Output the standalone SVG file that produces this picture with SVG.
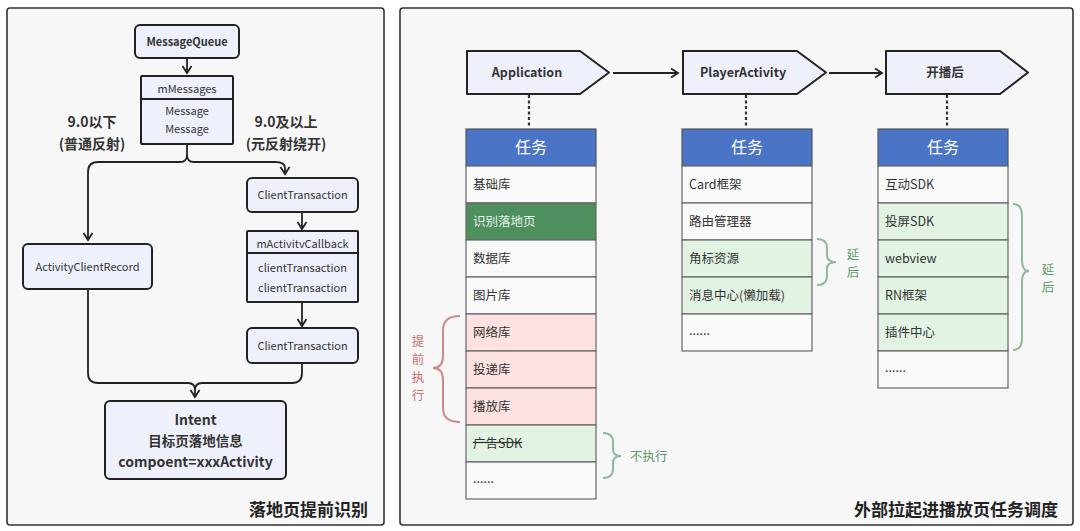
<svg xmlns="http://www.w3.org/2000/svg" width="1080" height="531" viewBox="0 0 1080 531">
<defs>
<marker id="arr" viewBox="0 0 12 12" refX="10" refY="6" markerWidth="12" markerHeight="12" markerUnits="userSpaceOnUse" orient="auto">
<path d="M3,1.5 L10,6 L3,10.5" fill="none" stroke="#222" stroke-width="1.8"/>
</marker>
<style>
text{font-family:"Noto Sans CJK SC","Noto Sans",sans-serif;fill:#333}
.panel{fill:#f7f7f7;stroke:#333;stroke-width:1.6}
.box{fill:#eef1fb;stroke:#222;stroke-width:2}
.sm{font-size:11px;text-anchor:middle}
.b{font-weight:bold}
.lbl{font-size:14px;font-weight:bold;text-anchor:middle}
.conn{fill:none;stroke:#222;stroke-width:1.8}
.hdr{fill:#4a74c6;stroke:#555;stroke-width:1.2}
.row{fill:#f9f9f9;stroke:#666;stroke-width:1.2}
.dg{fill:#4e8f5e;stroke:#666;stroke-width:1.2}
.lg{fill:#e2f3e4;stroke:#666;stroke-width:1.2}
.pk{fill:#fde2e1;stroke:#666;stroke-width:1.2}
.rt{font-size:12.5px}
.ht{font-size:16px;fill:#fff;text-anchor:middle}
.pent{fill:#eef1fb;stroke:#222;stroke-width:2;stroke-linejoin:round}
.dot{stroke:#333;stroke-width:2.2;stroke-dasharray:3,2.5}
.title{font-size:17px;font-weight:bold;text-anchor:end;fill:#222}
</style>
</defs>
<rect width="1080" height="531" fill="#ffffff"/>
<g id="panel-left"><rect class="panel" x="7" y="8" width="377" height="517" rx="3"/></g>
<g id="panel-right"><rect class="panel" x="400" y="8" width="673" height="517" rx="3"/></g>

<g id="connectors">
<line class="conn" x1="187" y1="59" x2="187" y2="73" marker-end="url(#arr)"/>
<path class="conn" d="M187,145 L187,155 Q187,162 180,162 L98,162 Q88,162 88,172 L88,240" marker-end="url(#arr)"/>
<path class="conn" d="M187,155 Q187,162 194,162 L275,162 Q285,162 285,168 L285,174" marker-end="url(#arr)"/>
<line class="conn" x1="302" y1="213" x2="302" y2="229" marker-end="url(#arr)"/>
<line class="conn" x1="302" y1="303" x2="302" y2="326" marker-end="url(#arr)"/>
<path class="conn" d="M88,290 L88,373 Q88,383 98,383 L188,383 Q195,383 195,390"/>
<path class="conn" d="M302,364 L302,373 Q302,383 292,383 L202,383 Q195,383 195,390 L195,397" marker-end="url(#arr)"/>
<line class="conn" x1="613" y1="73" x2="678" y2="73" marker-end="url(#arr)"/>
<line class="conn" x1="829" y1="73" x2="882" y2="73" marker-end="url(#arr)"/>
<line class="dot" x1="529" y1="95" x2="529" y2="128"/>
<line class="dot" x1="746" y1="95" x2="746" y2="128"/>
<line class="dot" x1="947" y1="95" x2="947" y2="128"/>
</g>

<g id="messagequeue"><rect class="box" x="135" y="25" width="104" height="33" rx="5"/><text class="sm b" x="187" y="45.5">MessageQueue</text></g>
<g id="mmessages"><rect class="box" x="141" y="76" width="92" height="68" rx="1"/><line x1="141" y1="99" x2="233" y2="99" stroke="#222" stroke-width="2"/>
<text class="sm" x="187" y="93">mMessages</text><text class="sm" x="187" y="115">Message</text><text class="sm" x="187" y="133">Message</text></g>
<g id="label-below"><text class="lbl" x="92" y="127">9.0以下</text><text class="lbl" x="92" y="149">(普通反射)</text></g>
<g id="label-above"><text class="lbl" x="286" y="127">9.0及以上</text><text class="lbl" x="286" y="149">(元反射绕开)</text></g>
<g id="activityclientrecord"><rect class="box" x="23" y="244" width="129" height="45" rx="5"/><text class="sm" x="87.5" y="270.5">ActivityClientRecord</text></g>
<g id="clienttransaction1"><rect class="box" x="247" y="178" width="111" height="34" rx="5"/><text class="sm" x="302.5" y="199">ClientTransaction</text></g>
<g id="mactivitycallback"><rect class="box" x="247" y="231" width="111" height="71" rx="1"/><line x1="247" y1="253" x2="358" y2="253" stroke="#222" stroke-width="2"/>
<text class="sm" x="302.5" y="248">mActivitvCallback</text><text class="sm" x="302.5" y="272">clientTransaction</text><text class="sm" x="302.5" y="292">clientTransaction</text></g>
<g id="clienttransaction2"><rect class="box" x="247" y="328" width="111" height="35" rx="5"/><text class="sm" x="302.5" y="350">ClientTransaction</text></g>
<g id="intent"><rect class="box" x="105" y="401" width="181" height="78" rx="5" stroke-width="3.2"/>
<text class="b" x="195.5" y="425" font-size="14" text-anchor="middle">Intent</text>
<text class="b" x="195.5" y="446" font-size="13.5" text-anchor="middle">目标页落地信息</text>
<text class="b" x="195.5" y="467" font-size="14" text-anchor="middle">compoent=xxxActivity</text></g>
<g id="title-left"><text class="title" x="368" y="516">落地页提前识别</text></g>

<g id="application"><path class="pent" d="M467,51 L580,51 L609,72.5 L580,94 L467,94 Z"/><text class="b" x="527" y="77" font-size="12.5" text-anchor="middle">Application</text></g>
<g id="playeractivity"><path class="pent" d="M683,51 L797,51 L826,72.5 L797,94 L683,94 Z"/><text class="b" x="743" y="77" font-size="12.5" text-anchor="middle">PlayerActivity</text></g>
<g id="kaibohou"><path class="pent" d="M886,51 L1000,51 L1028,72.5 L1000,94 L886,94 Z"/><text class="b" x="945" y="77" font-size="12.5" text-anchor="middle">开播后</text></g>

<g id="table-application">
<rect class="hdr" x="466" y="129" width="130" height="37"/><text class="ht" x="531" y="153">任务</text>
<rect class="row" x="466" y="166" width="130" height="37"/><text class="rt" x="473" y="188.5">基础库</text>
<rect class="dg" x="466" y="203" width="130" height="37"/><text class="rt" x="473" y="225.5" style="fill:#e6f2e6">识别落地页</text>
<rect class="row" x="466" y="240" width="130" height="37"/><text class="rt" x="473" y="262.5">数据库</text>
<rect class="row" x="466" y="277" width="130" height="37"/><text class="rt" x="473" y="299.5">图片库</text>
<rect class="pk" x="466" y="314" width="130" height="37"/><text class="rt" x="473" y="336.5">网络库</text>
<rect class="pk" x="466" y="351" width="130" height="37"/><text class="rt" x="473" y="373.5">投递库</text>
<rect class="pk" x="466" y="388" width="130" height="37"/><text class="rt" x="473" y="410.5">播放库</text>
<rect class="lg" x="466" y="425" width="130" height="37"/><text class="rt" x="473" y="447.5" text-decoration="line-through">广告SDK</text>
<rect class="row" x="466" y="462" width="130" height="37"/><text class="rt" x="473" y="483">......</text>
</g>
<g id="table-playeractivity">
<rect class="hdr" x="682" y="129" width="130" height="37"/><text class="ht" x="747" y="153">任务</text>
<rect class="row" x="682" y="166" width="130" height="37"/><text class="rt" x="689" y="188.5">Card框架</text>
<rect class="row" x="682" y="203" width="130" height="37"/><text class="rt" x="689" y="225.5">路由管理器</text>
<rect class="lg" x="682" y="240" width="130" height="37"/><text class="rt" x="689" y="262.5">角标资源</text>
<rect class="lg" x="682" y="277" width="130" height="37"/><text class="rt" x="689" y="299.5">消息中心(懒加载)</text>
<rect class="row" x="682" y="314" width="130" height="37"/><text class="rt" x="689" y="335">......</text>
</g>
<g id="table-kaibohou">
<rect class="hdr" x="878" y="129" width="130" height="37"/><text class="ht" x="943" y="153">任务</text>
<rect class="row" x="878" y="166" width="130" height="37"/><text class="rt" x="885" y="188.5">互动SDK</text>
<rect class="lg" x="878" y="203" width="130" height="37"/><text class="rt" x="885" y="225.5">投屏SDK</text>
<rect class="lg" x="878" y="240" width="130" height="37"/><text class="rt" x="885" y="262.5">webview</text>
<rect class="lg" x="878" y="277" width="130" height="37"/><text class="rt" x="885" y="299.5">RN框架</text>
<rect class="lg" x="878" y="314" width="130" height="37"/><text class="rt" x="885" y="336.5">插件中心</text>
<rect class="row" x="878" y="351" width="130" height="37"/><text class="rt" x="885" y="372">......</text>
</g>

<g id="brace-tiqian">
<path d="M460,316 Q443,316 443,330 L443,356 Q443,368 433,368 Q443,368 443,380 L443,408 Q443,422 460,422" fill="none" stroke="#d28a88" stroke-width="2"/>
<g font-size="12.5" text-anchor="middle" style="fill:#c9706e"><text x="418" y="346" style="fill:#c9706e">提</text><text x="418" y="364" style="fill:#c9706e">前</text><text x="418" y="382" style="fill:#c9706e">执</text><text x="418" y="400" style="fill:#c9706e">行</text></g>
</g>
<g id="brace-buzhixing">
<path d="M603,433 Q613,433 613,442 L613,449 Q613,456 621,456 Q613,456 613,463 L613,469 Q613,478 603,478" fill="none" stroke="#8fb99a" stroke-width="2"/>
<text x="630" y="461" font-size="12.5" style="fill:#5e9a6c">不执行</text>
</g>
<g id="brace-yanhou1">
<path d="M817,239 Q827,239 827,248 L827,255 Q827,262 836,262 Q827,262 827,269 L827,276 Q827,285 817,285" fill="none" stroke="#8fb99a" stroke-width="2"/>
<text x="853" y="259" font-size="12.5" text-anchor="middle" style="fill:#5e9a6c">延</text><text x="853" y="277" font-size="12.5" text-anchor="middle" style="fill:#5e9a6c">后</text>
</g>
<g id="brace-yanhou2">
<path d="M1013,204 Q1022,204 1022,216 L1022,260 Q1022,271 1029,271 Q1022,271 1022,282 L1022,338 Q1022,350 1013,350" fill="none" stroke="#8fb99a" stroke-width="2"/>
<text x="1048" y="274" font-size="12.5" text-anchor="middle" style="fill:#5e9a6c">延</text><text x="1048" y="292" font-size="12.5" text-anchor="middle" style="fill:#5e9a6c">后</text>
</g>
<g id="title-right"><text class="title" x="1058" y="516">外部拉起进播放页任务调度</text></g>
</svg>
